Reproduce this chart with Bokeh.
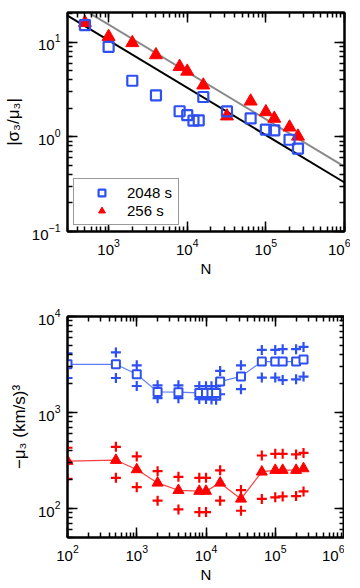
from bokeh.plotting import figure
from bokeh.layouts import column
from bokeh.models import LogAxis, LogTicker, Legend, LegendItem
from bokeh.embed import file_html
from bokeh.resources import INLINE

# ---------------- data: top panel ----------------
N_2048_top = [500, 1000, 2000, 4000, 8000, 10000, 12000, 14000, 16000,
              32000, 64000, 100000, 128000, 200000, 256000]
ratio_2048 = [15.1, 8.9, 3.9, 2.74, 1.86, 1.69, 1.48, 1.49, 2.63,
              1.85, 1.56, 1.19, 1.17, 0.93, 0.75]
N_256_top = [500, 1000, 2000, 4000, 8000, 10000, 16000, 32000, 64000,
             100000, 128000, 200000, 256000]
ratio_256 = [16.0, 11.4, 9.8, 7.3, 5.5, 4.9, 3.5, 1.65, 2.37,
             1.83, 1.56, 1.26, 1.01]
fit_N = [300, 1000000]
fit_black = [19.0, 0.329]
fit_gray = [27.9, 0.484]

# ---------------- data: bottom panel ----------------
N_2048 = [100, 500, 1000, 2000, 4000, 8000, 10000, 12000, 14000, 16000,
          32000, 64000, 100000, 128000, 200000, 256000]
mu_2048 = [3180, 3180, 2500, 1640, 1630, 1600, 1600, 1600, 1600, 2100,
           2380, 3390, 3390, 3390, 3390, 3560]
mu_2048_hi = [4140, 4230, 3100, 1920, 1920, 1880, 1880, 1880, 1880, 2710,
              3100, 4490, 4490, 4570, 4570, 4820]
mu_2048_lo = [2290, 2290, 1890, 1410, 1410, 1380, 1380, 1370, 1360, 1550,
              1750, 2310, 2310, 2180, 2220, 2370]
N_256 = [100, 500, 1000, 2000, 4000, 8000, 10000, 16000, 32000, 64000,
         100000, 128000, 200000, 256000]
mu_256 = [312, 319, 255, 185, 155, 152, 152, 185, 126, 241,
          251, 251, 251, 261]
mu_256_hi = [430, 440, 349, 245, 214, 209, 209, 250, 156, 357,
             372, 372, 366, 380]
mu_256_lo = [204, 209, 167, 121, 98, 92, 92, 121, 95, 126,
             131, 134, 135, 151]

FONT = "Liberation Sans"
BLUE = "#2E50F2"
RED = "#FF0000"


def style_axis(ax, show_labels=True):
    ax.ticker = LogTicker(num_minor_ticks=10)
    ax.axis_line_color = "black"
    ax.axis_line_width = 2
    ax.major_tick_in = 10
    ax.major_tick_out = 0
    ax.minor_tick_in = 5
    ax.minor_tick_out = 0
    ax.major_tick_line_width = 1.5
    ax.minor_tick_line_width = 1.5
    ax.major_tick_line_color = "black"
    ax.minor_tick_line_color = "black"
    ax.major_label_text_font = FONT
    ax.major_label_text_color = "black"
    if show_labels:
        ax.major_label_text_font_size = "15px"
        ax.major_label_standoff = 7
    else:
        ax.major_label_text_font_size = "1px"
        ax.major_label_text_alpha = 0
        ax.major_label_standoff = 0
    ax.axis_label_text_font = FONT
    ax.axis_label_text_font_size = "15px"
    ax.axis_label_text_font_style = "normal"
    ax.axis_label_text_color = "black"


def make_fig(xr, yr, frame_h, border_top, border_bottom, ylabel):
    p = figure(frame_width=277, frame_height=frame_h,
               x_axis_type="log", y_axis_type="log",
               x_range=xr, y_range=yr, output_backend="svg",
               toolbar_location=None, min_border_left=59, min_border_right=6,
               min_border_top=border_top, min_border_bottom=border_bottom)
    p.grid.visible = False
    p.outline_line_color = "black"
    p.outline_line_width = 2
    p.background_fill_color = "white"
    p.border_fill_color = "white"
    bottom_ax = p.below[0]
    left_ax = p.left[0]
    style_axis(bottom_ax)
    style_axis(left_ax)
    bottom_ax.axis_label = "N"
    bottom_ax.axis_label_standoff = 2
    left_ax.axis_label = ylabel
    left_ax.axis_label_text_font_size = "17px"
    left_ax.axis_label_standoff = 6
    top_ax = LogAxis()
    right_ax = LogAxis()
    style_axis(top_ax, show_labels=False)
    style_axis(right_ax, show_labels=False)
    p.add_layout(top_ax, "above")
    p.add_layout(right_ax, "right")
    return p


# ---------------- top panel ----------------
p1 = make_fig((300, 1000000), (0.1, 20.5), 219, 12, 45, "|σ₃/μ₃|")

p1.line(fit_N, fit_gray, line_color="#8A8A8A", line_width=2)
p1.line(fit_N, fit_black, line_color="black", line_width=2)
r_tri = p1.scatter(N_256_top, ratio_256, marker="triangle", size=13,
                   fill_color=RED, line_color=RED)
r_sq = p1.scatter(N_2048_top, ratio_2048, marker="square", size=10,
                  fill_color=None, line_color=BLUE, line_width=2.2)

legend = Legend(items=[LegendItem(label="2048 s", renderers=[r_sq]),
                       LegendItem(label="256 s", renderers=[r_tri])],
                location="bottom_left")
legend.label_text_font = FONT
legend.label_text_font_size = "15px"
legend.label_text_color = "black"
legend.border_line_color = "#333333"
legend.border_line_width = 1.5
legend.padding = 5
legend.spacing = 1
legend.glyph_width = 45
legend.glyph_height = 17
legend.label_height = 17
legend.label_width = 46
legend.label_standoff = 3
legend.margin = 6
legend.background_fill_alpha = 1
p1.add_layout(legend)

# ---------------- bottom panel ----------------
p2 = make_fig((100, 1000000), (50, 10000), 221, 37, 45, "−μ₃ (km/s)³")

p2.line(N_2048, mu_2048, line_color="#5F7FF5", line_width=1.2)
p2.scatter(N_2048, mu_2048_hi, marker="cross", size=10, line_color=BLUE, line_width=2.2)
p2.scatter(N_2048, mu_2048_lo, marker="cross", size=10, line_color=BLUE, line_width=2.2)
p2.scatter(N_2048, mu_2048, marker="square", size=8, fill_color="white",
           line_color=BLUE, line_width=2)

p2.line(N_256, mu_256, line_color="#FF4040", line_width=1.2)
p2.scatter(N_256, mu_256_hi, marker="cross", size=10, line_color=RED, line_width=2.2)
p2.scatter(N_256, mu_256_lo, marker="cross", size=10, line_color=RED, line_width=2.2)
p2.scatter(N_256, mu_256, marker="triangle", size=11, fill_color=RED, line_color=RED)

layout = column(p1, p2)
open("out.html", "w").write(file_html(layout, INLINE))
